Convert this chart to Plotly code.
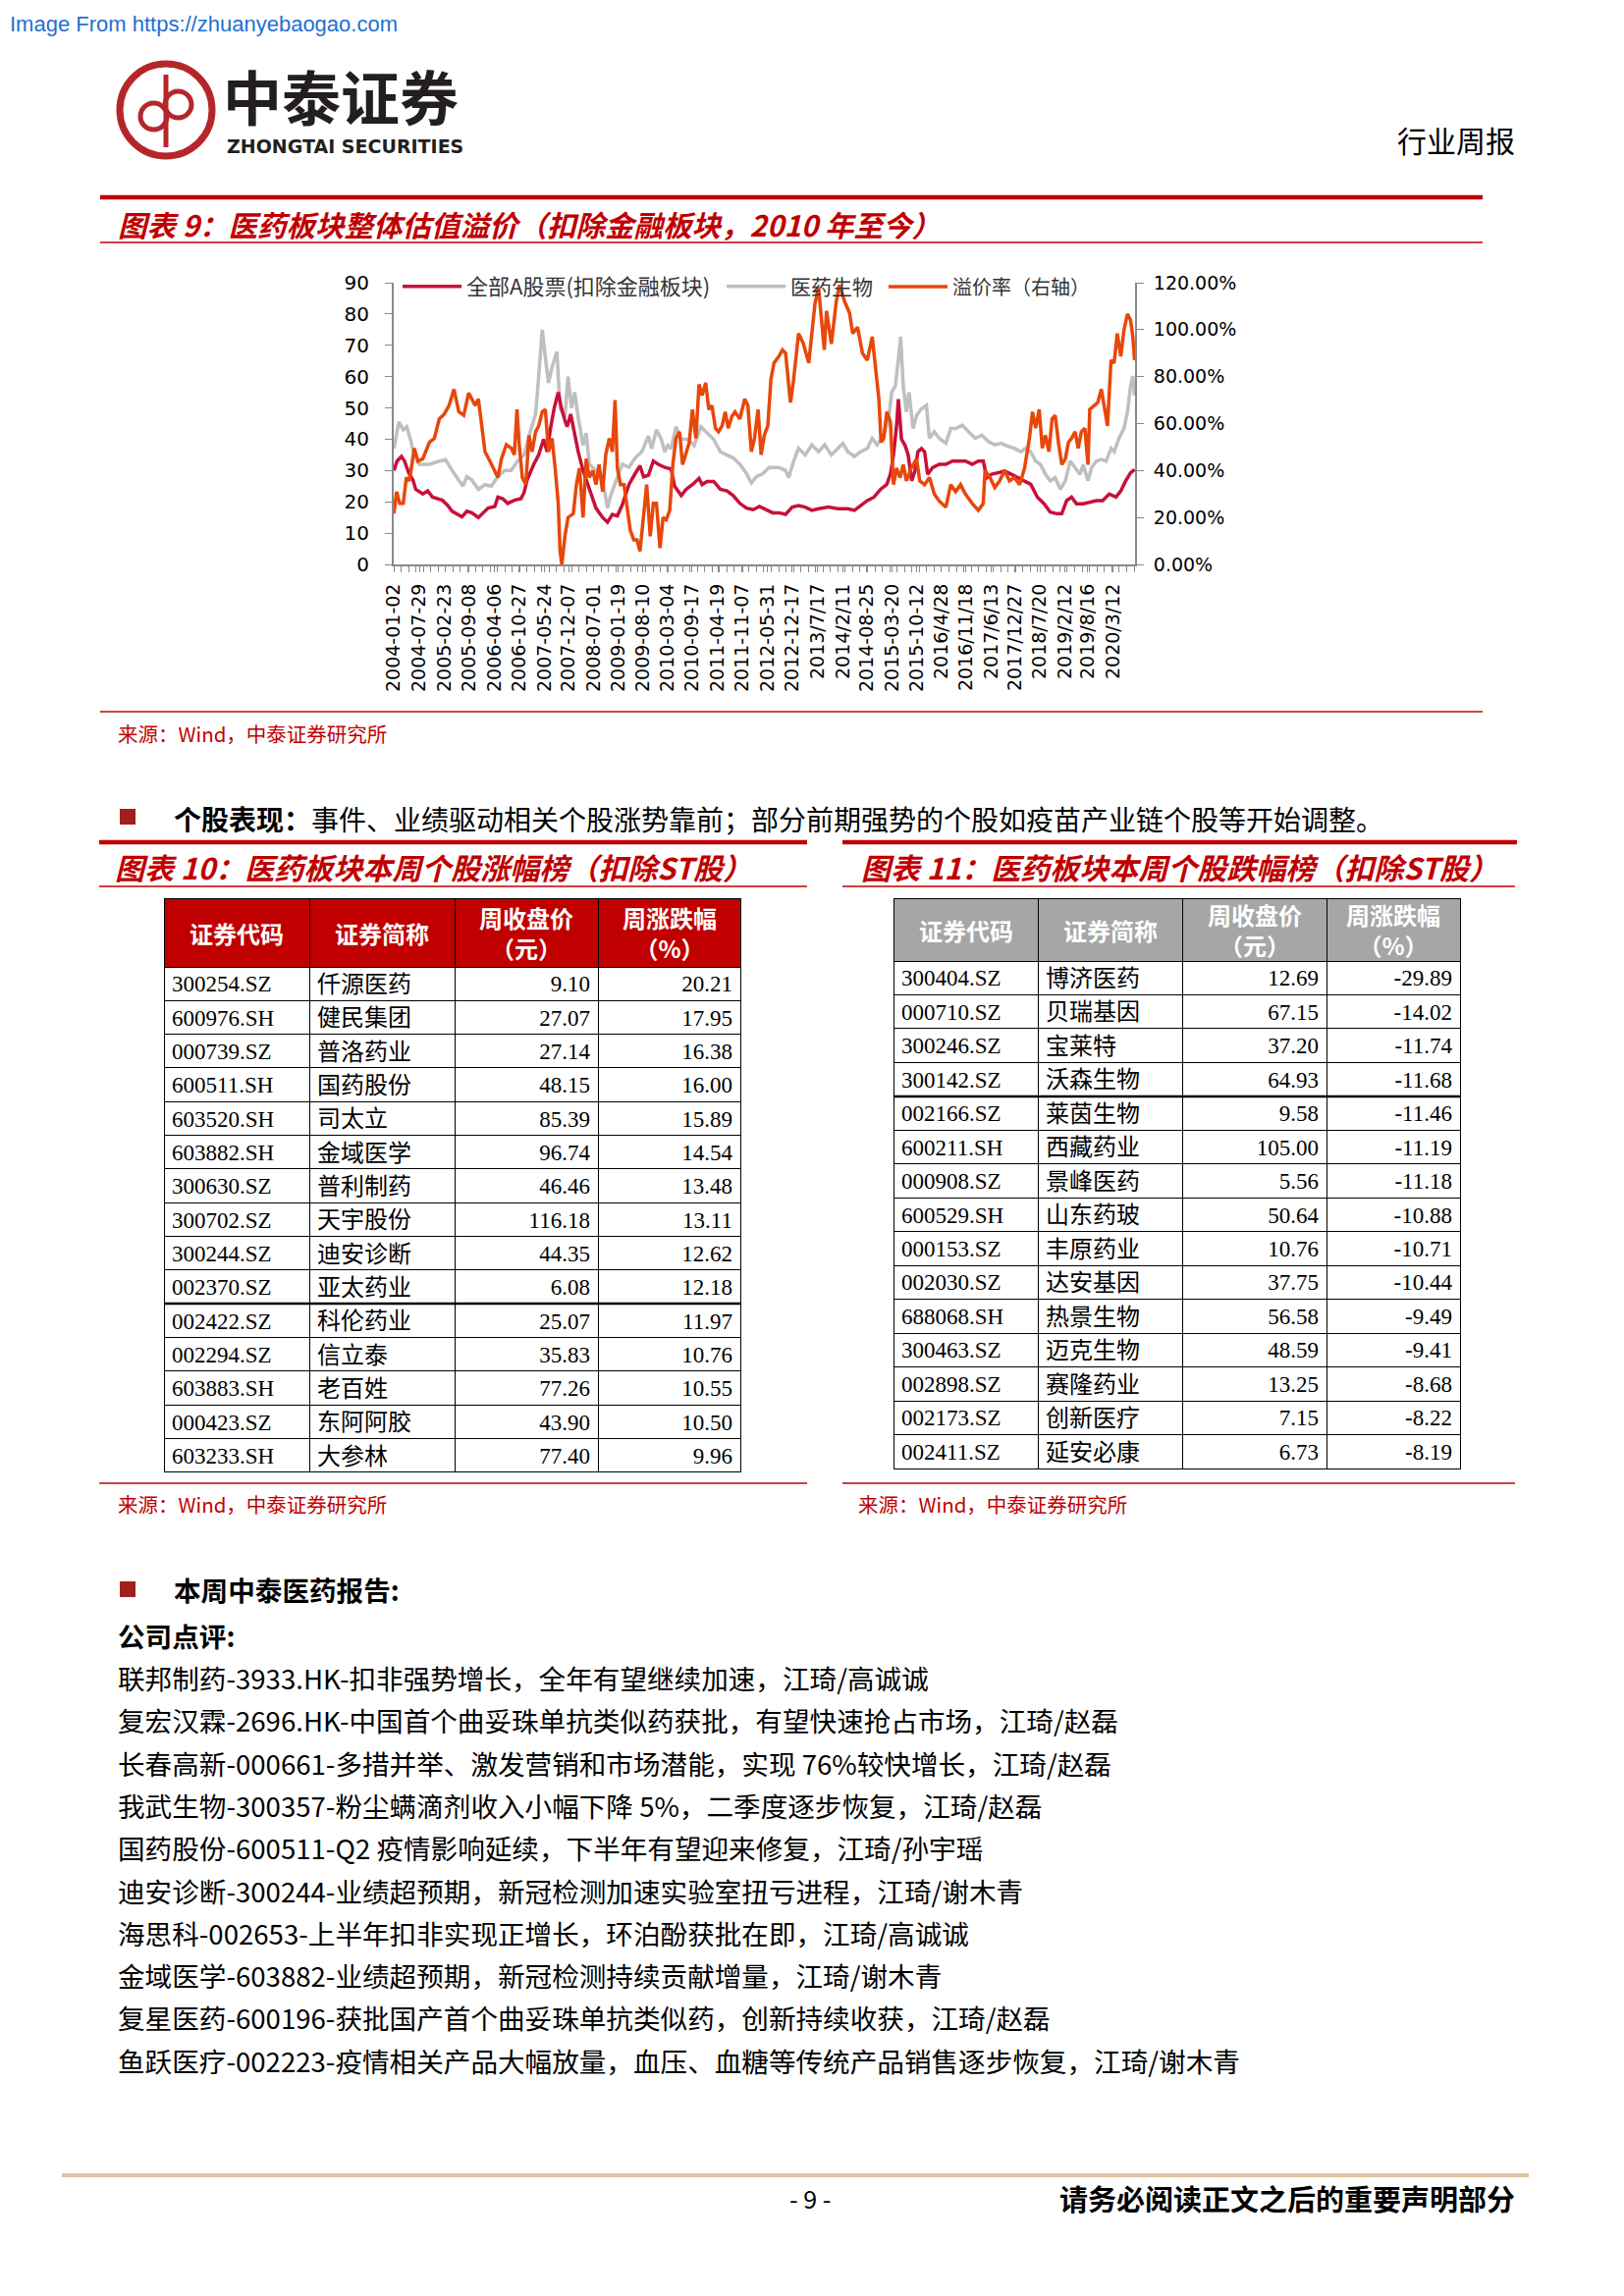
import plotly.graph_objects as go
import pandas as pd

W, H = 1654, 2339
OFF = 8  # the html body margin puts the figure 8px in from the window corner

# ---------------- chart data ----------------
x_labels = ["2004-01-02", "2004-07-29", "2005-02-23", "2005-09-08", "2006-04-06", "2006-10-27",
            "2007-05-24", "2007-12-07", "2008-07-01", "2009-01-19", "2009-08-10", "2010-03-04",
            "2010-09-17", "2011-04-19", "2011-11-07", "2012-05-31", "2012-12-17", "2013/7/17",
            "2014/2/11", "2014-08-25", "2015-03-20", "2015-10-12", "2016/4/28", "2016/11/18",
            "2017/6/13", "2017/12/27", "2018/7/20", "2019/2/12", "2019/8/16", "2020/3/12"]

# 全部A股票(扣除金融板块) - time in decimal years, PE values
red_t = [2004.00, 2004.07, 2004.17, 2004.24, 2004.34, 2004.43, 2004.49, 2004.65, 2004.76, 2004.87,
         2005.09, 2005.20, 2005.31, 2005.42, 2005.53, 2005.64, 2005.75, 2005.90, 2006.01, 2006.12,
         2006.27, 2006.34, 2006.45, 2006.56, 2006.71, 2006.86, 2006.93, 2007.00, 2007.15, 2007.26,
         2007.37, 2007.45, 2007.52, 2007.61, 2007.70, 2007.77, 2007.85, 2007.90, 2007.98, 2008.07,
         2008.15, 2008.26, 2008.40, 2008.55, 2008.70, 2008.81, 2008.92, 2009.03, 2009.14, 2009.21,
         2009.29, 2009.43, 2009.54, 2009.62, 2009.73, 2009.84, 2009.95, 2010.10, 2010.24, 2010.32,
         2010.47, 2010.58, 2010.72, 2010.87, 2010.94, 2011.05, 2011.20, 2011.35, 2011.50, 2011.64,
         2011.79, 2011.94, 2012.09, 2012.23, 2012.38, 2012.53, 2012.67, 2012.82, 2012.97, 2013.11,
         2013.26, 2013.41, 2013.56, 2013.78, 2014.00, 2014.22, 2014.37, 2014.51, 2014.66, 2014.81,
         2014.96, 2015.10, 2015.18, 2015.25, 2015.32, 2015.36, 2015.43, 2015.51, 2015.58, 2015.66,
         2015.73, 2015.80, 2015.88, 2015.95, 2016.02, 2016.13, 2016.28, 2016.43, 2016.58, 2016.72,
         2016.87, 2017.02, 2017.16, 2017.27, 2017.35, 2017.46, 2017.61, 2017.75, 2017.90, 2018.05,
         2018.20, 2018.34, 2018.49, 2018.64, 2018.78, 2018.93, 2019.04, 2019.15, 2019.26, 2019.37,
         2019.52, 2019.67, 2019.82, 2019.96, 2020.11, 2020.26, 2020.37, 2020.48, 2020.59, 2020.68]
red_v = [30, 33, 34.5, 33, 29, 27, 24, 22.5, 23.5, 21.5,
         20.5, 19, 17, 16, 15.2, 17, 16.5, 15, 16.5, 18,
         18.5, 21.5, 21, 19.5, 20.5, 21, 23, 27, 32, 35,
         40, 36, 43, 50, 55, 50, 46, 44, 48, 41,
         36, 30, 24, 18, 15, 13.5, 16, 15.5, 19, 22,
         25.5, 29, 31.5, 28, 28.5, 33, 32, 31, 30.5, 25,
         22, 24, 25.5, 27.5, 25.5, 26.5, 26.5, 24, 23.5, 22,
         19.5, 18, 17.5, 18.5, 17.5, 16.5, 16.5, 16, 18.3, 18.8,
         18.3, 17.3, 17.8, 18.3, 17.8, 17.8, 17.3, 18.8, 20.4, 21.5,
         24, 25.6, 28.8, 35, 44.5, 52.8, 40, 38, 35, 26.7,
         29.8, 36, 37, 36, 28.8, 30.9, 32, 32, 33, 33,
         33, 32, 33, 33, 27.7, 28.8, 29.3, 29.8, 28.8, 27.7,
         26.7, 25.6, 21.5, 19.4, 16.7, 16.2, 16.2, 20.4, 21.5, 19.4,
         19.4, 19.9, 20.4, 20.4, 22.5, 21.5, 23.5, 26.7, 29.3, 30.3]

# 医药生物
gray_t = [2004.00, 2004.06, 2004.11, 2004.21, 2004.29, 2004.37, 2004.44, 2004.57, 2004.80, 2005.02,
          2005.16, 2005.31, 2005.46, 2005.55, 2005.64, 2005.75, 2005.90, 2006.05, 2006.19, 2006.34,
          2006.49, 2006.64, 2006.78, 2006.93, 2007.08, 2007.19, 2007.26, 2007.34, 2007.41, 2007.48,
          2007.56, 2007.67, 2007.74, 2007.85, 2007.92, 2008.00, 2008.07, 2008.15, 2008.26, 2008.33,
          2008.40, 2008.55, 2008.70, 2008.81, 2008.88, 2008.99, 2009.14, 2009.29, 2009.43, 2009.58,
          2009.73, 2009.80, 2009.91, 2010.02, 2010.10, 2010.17, 2010.24, 2010.35, 2010.47, 2010.61,
          2010.76, 2010.91, 2011.05, 2011.20, 2011.35, 2011.50, 2011.64, 2011.79, 2011.94, 2012.05,
          2012.16, 2012.31, 2012.45, 2012.67, 2012.82, 2012.89, 2013.00, 2013.11, 2013.26, 2013.41,
          2013.56, 2013.70, 2013.85, 2014.00, 2014.11, 2014.22, 2014.37, 2014.51, 2014.66, 2014.77,
          2014.88, 2015.03, 2015.14, 2015.21, 2015.29, 2015.36, 2015.41, 2015.47, 2015.54, 2015.60,
          2015.69, 2015.77, 2015.88, 2015.99, 2016.06, 2016.17, 2016.28, 2016.43, 2016.54, 2016.65,
          2016.80, 2016.94, 2017.09, 2017.24, 2017.39, 2017.53, 2017.68, 2017.83, 2017.97, 2018.12,
          2018.23, 2018.34, 2018.45, 2018.56, 2018.67, 2018.78, 2018.89, 2019.01, 2019.12, 2019.23,
          2019.34, 2019.45, 2019.52, 2019.63, 2019.71, 2019.82, 2019.93, 2020.04, 2020.15, 2020.22,
          2020.33, 2020.44, 2020.52, 2020.59, 2020.64, 2020.68]
gray_v = [37, 42, 45.5, 43, 44, 40, 36, 32, 32, 33,
          33.5, 30, 27, 25, 28, 27, 24, 25.5, 25, 28,
          30, 30, 33, 35, 43, 48, 60, 75, 66, 58,
          63, 68, 50, 47, 60, 50, 55, 47, 38, 42,
          32, 30, 27, 18, 22, 26, 32, 31, 34, 36,
          41, 37, 43, 40, 36, 38, 37, 44, 40, 40,
          38, 44, 42, 40, 36, 35, 34, 32, 29, 26,
          28, 29, 31, 31, 30, 27.7, 33, 37.1, 35, 38.2,
          36, 38.2, 35, 37.1, 38.7, 36, 34.5, 36, 37.1, 40.3,
          38.2, 41.3, 46.6, 55, 57, 65.4, 72.7, 57, 48.7, 55,
          43.4, 47.6, 49.7, 50.8, 40.3, 42.4, 40.3, 38.7, 43.4, 43.4,
          44.5, 42.4, 40.3, 41.3, 39.2, 38.2, 38.7, 37.7, 37.1, 36,
          37.1, 36, 33, 31.9, 28.8, 26.7, 27.7, 24, 26.7, 33,
          30.9, 28.8, 31.9, 26.7, 30.9, 33, 33.5, 33, 37.1, 36,
          40.3, 43.4, 48.7, 57, 60.2, 53.9]

# 溢价率（右轴）, percent
org_t = [2004.00, 2004.06, 2004.13, 2004.21, 2004.28, 2004.35, 2004.46, 2004.54, 2004.65, 2004.80,
         2004.91, 2005.02, 2005.13, 2005.24, 2005.35, 2005.46, 2005.57, 2005.68, 2005.75, 2005.83,
         2005.90, 2005.97, 2006.05, 2006.16, 2006.27, 2006.34, 2006.42, 2006.53, 2006.64, 2006.71,
         2006.77, 2006.82, 2006.89, 2006.97, 2007.04, 2007.11, 2007.19, 2007.26, 2007.34, 2007.41,
         2007.48, 2007.56, 2007.63, 2007.70, 2007.74, 2007.78, 2007.85, 2007.92, 2008.04, 2008.11,
         2008.18, 2008.26, 2008.33, 2008.40, 2008.48, 2008.55, 2008.62, 2008.70, 2008.77, 2008.85,
         2008.92, 2008.98, 2009.03, 2009.10, 2009.18, 2009.25, 2009.32, 2009.40, 2009.47, 2009.54,
         2009.62, 2009.69, 2009.77, 2009.84, 2009.91, 2009.99, 2010.06, 2010.13, 2010.21, 2010.28,
         2010.35, 2010.43, 2010.50, 2010.58, 2010.65, 2010.72, 2010.80, 2010.87, 2010.94, 2011.02,
         2011.09, 2011.16, 2011.24, 2011.31, 2011.39, 2011.46, 2011.53, 2011.61, 2011.68, 2011.79,
         2011.90, 2011.97, 2012.05, 2012.12, 2012.20, 2012.27, 2012.34, 2012.42, 2012.49, 2012.56,
         2012.67, 2012.75, 2012.82, 2012.93, 2013.00, 2013.11, 2013.22, 2013.34, 2013.41, 2013.48,
         2013.56, 2013.63, 2013.69, 2013.74, 2013.85, 2013.96, 2014.03, 2014.15, 2014.26, 2014.33,
         2014.44, 2014.55, 2014.66, 2014.77, 2014.85, 2014.92, 2014.97, 2015.03, 2015.10, 2015.18,
         2015.25, 2015.32, 2015.40, 2015.47, 2015.54, 2015.65, 2015.77, 2015.84, 2015.95, 2016.06,
         2016.17, 2016.28, 2016.43, 2016.54, 2016.65, 2016.76, 2016.87, 2017.02, 2017.16, 2017.27,
         2017.31, 2017.42, 2017.53, 2017.64, 2017.75, 2017.86, 2017.97, 2018.09, 2018.20, 2018.31,
         2018.38, 2018.45, 2018.53, 2018.60, 2018.67, 2018.75, 2018.82, 2018.89, 2018.97, 2019.04,
         2019.12, 2019.19, 2019.26, 2019.34, 2019.41, 2019.48, 2019.56, 2019.63, 2019.67, 2019.78,
         2019.85, 2019.93, 2020.00, 2020.07, 2020.15, 2020.22, 2020.29, 2020.37, 2020.44, 2020.52,
         2020.59, 2020.64, 2020.68]
org_v = [21.6, 31, 26, 26, 37, 35.6, 49.5, 44, 45, 52,
         53.7, 62, 64, 67.7, 74.6, 65, 63.5, 73, 70.5, 67.7,
         70.5, 59, 48, 44, 40, 37, 45, 51, 49.5, 46.7,
         66, 51, 37, 34, 55, 48, 56.5, 59, 65, 66,
         48, 53.7, 41, 26, 6, 0, 12, 20, 21.6, 34,
         41, 20, 45, 37, 40, 34, 42.5, 31, 46.7, 53.7,
         48, 70, 41, 34, 34, 23, 14.6, 10.5, 10.5, 5.6,
         20, 34, 12, 26, 26, 7, 20, 19, 23, 42.5,
         53.7, 56.5, 42.5, 48, 52, 66, 53.7, 76.7, 72, 77.4,
         66, 67.7, 58, 56.5, 59, 65, 58, 63, 65, 62,
         70.5, 67.7, 48, 53.7, 66, 46.7, 55, 59, 78.8, 85.8,
         88.6, 91.4, 90, 69, 78.8, 98.4, 94, 85.8, 98.4, 111,
         118, 105, 91.4, 108, 94, 112, 119, 112, 107, 98.4,
         101, 90, 87, 97, 84.4, 70.5, 52, 53.7, 65, 60.7,
         34, 41, 37, 42.5, 35.6, 41, 45, 35.6, 34, 37,
         30, 27, 24.4, 34, 31, 34, 30, 26, 23, 26,
         40, 37, 32.8, 35.6, 40, 35.6, 37, 34, 41, 53.7,
         65, 58, 66, 49.5, 55, 48, 62, 63.5, 51, 42.5,
         45, 52, 53.7, 56.5, 49.5, 56.5, 58, 42.5, 66, 67.7,
         69, 74.6, 66, 59, 87, 85.8, 98.4, 88.6, 99.8, 106.7,
         104, 97, 87]

# ---------------- tables ----------------
heads = ["证券代码", "证券简称", "周收盘价<br>（元）", "周涨跌幅<br>（%）"]

up_code = ["300254.SZ", "600976.SH", "000739.SZ", "600511.SH", "603520.SH", "603882.SH", "300630.SZ",
           "300702.SZ", "300244.SZ", "002370.SZ", "002422.SZ", "002294.SZ", "603883.SH", "000423.SZ",
           "603233.SH"]
up_name = ["仟源医药", "健民集团", "普洛药业", "国药股份", "司太立", "金域医学", "普利制药",
           "天宇股份", "迪安诊断", "亚太药业", "科伦药业", "信立泰", "老百姓", "东阿阿胶", "大参林"]
up_close = [9.10, 27.07, 27.14, 48.15, 85.39, 96.74, 46.46, 116.18, 44.35, 6.08, 25.07, 35.83,
            77.26, 43.90, 77.40]
up_chg = [20.21, 17.95, 16.38, 16.00, 15.89, 14.54, 13.48, 13.11, 12.62, 12.18, 11.97, 10.76,
          10.55, 10.50, 9.96]

dn_code = ["300404.SZ", "000710.SZ", "300246.SZ", "300142.SZ", "002166.SZ", "600211.SH", "000908.SZ",
           "600529.SH", "000153.SZ", "002030.SZ", "688068.SH", "300463.SZ", "002898.SZ", "002173.SZ",
           "002411.SZ"]
dn_name = ["博济医药", "贝瑞基因", "宝莱特", "沃森生物", "莱茵生物", "西藏药业", "景峰医药",
           "山东药玻", "丰原药业", "达安基因", "热景生物", "迈克生物", "赛隆药业", "创新医疗", "延安必康"]
dn_close = [12.69, 67.15, 37.20, 64.93, 9.58, 105.00, 5.56, 50.64, 10.76, 37.75, 56.58, 48.59,
            13.25, 7.15, 6.73]
dn_chg = [-29.89, -14.02, -11.74, -11.68, -11.46, -11.19, -11.18, -10.88, -10.71, -10.44, -9.49,
          -9.41, -8.68, -8.22, -8.19]

reports = [
    "联邦制药-3933.HK-扣非强势增长，全年有望继续加速，江琦/高诚诚",
    "复宏汉霖-2696.HK-中国首个曲妥珠单抗类似药获批，有望快速抢占市场，江琦/赵磊",
    "长春高新-000661-多措并举、激发营销和市场潜能，实现 76%较快增长，江琦/赵磊",
    "我武生物-300357-粉尘螨滴剂收入小幅下降 5%，二季度逐步恢复，江琦/赵磊",
    "国药股份-600511-Q2 疫情影响延续，下半年有望迎来修复，江琦/孙宇瑶",
    "迪安诊断-300244-业绩超预期，新冠检测加速实验室扭亏进程，江琦/谢木青",
    "海思科-002653-上半年扣非实现正增长，环泊酚获批在即，江琦/高诚诚",
    "金域医学-603882-业绩超预期，新冠检测持续贡献增量，江琦/谢木青",
    "复星医药-600196-获批国产首个曲妥珠单抗类似药，创新持续收获，江琦/赵磊",
    "鱼跃医疗-002223-疫情相关产品大幅放量，血压、血糖等传统产品销售逐步恢复，江琦/谢木青",
]


def yr2date(t):
    y = int(t)
    return pd.Timestamp(year=y, month=1, day=1) + pd.Timedelta(days=(t - y) * 365.25)


# page pixel -> paper fraction
def X(px):
    return (px - OFF) / W


def Y(py):
    return 1 - (py - OFF) / H


CJK = "Noto Sans CJK SC"
RED = "#C00000"
axcol = "#898989"

fig = go.Figure()

fig.add_trace(go.Scatter(x=[yr2date(t) for t in gray_t], y=gray_v, mode="lines", name="医药生物",
                         line=dict(color="#BFBFBF", width=3.5), legend="legend2"))
fig.add_trace(go.Scatter(x=[yr2date(t) for t in red_t], y=red_v, mode="lines", name="全部A股票(扣除金融板块)",
                         line=dict(color="#C8103A", width=3.5), legend="legend"))
fig.add_trace(go.Scatter(x=[yr2date(t) for t in org_t], y=org_v, mode="lines", name="溢价率（右轴）",
                         line=dict(color="#E8470A", width=3.5), yaxis="y2", legend="legend3"))

tick_dates = pd.to_datetime(x_labels, format="mixed")

fig.update_layout(
    width=W, height=H, margin=dict(l=0, r=0, t=0, b=0), showlegend=True,
    paper_bgcolor="white", plot_bgcolor="white",
    xaxis=dict(domain=[X(401), X(1156)], anchor="y", range=[yr2date(2003.995), yr2date(2020.69)],
               tickvals=tick_dates, ticktext=x_labels, tickangle=-90,
               tickfont=dict(family="DejaVu Sans", size=19, color="black"),
               showline=True, linecolor=axcol, linewidth=2, ticks="outside", ticklen=6,
               tickcolor=axcol, showgrid=False, zeroline=False, ticklabelstandoff=4, automargin=False,
               minor=dict(ticks="outside", ticklen=6, tickcolor=axcol, dtick="M2", tick0="2004-01-01")),
    yaxis=dict(domain=[Y(575), Y(288)], anchor="x", range=[0, 90], dtick=10,
               tickfont=dict(family="DejaVu Sans", size=20, color="black"),
               showline=True, linecolor=axcol, linewidth=2, ticks="outside", ticklen=7,
               tickcolor=axcol, showgrid=False, zeroline=False, ticklabelstandoff=12, automargin=False),
    yaxis2=dict(overlaying="y", side="right", anchor="x", range=[0, 120], dtick=20,
                tickformat=".2f", ticksuffix="%",
                tickfont=dict(family="DejaVu Sans", size=19, color="black"),
                showline=True, linecolor=axcol, linewidth=2, ticks="outside", ticklen=7,
                tickcolor=axcol, showgrid=False, zeroline=False, ticklabelstandoff=6, automargin=False),
)

for key, lx, fs in [("legend", 405, 22), ("legend2", 735, 21), ("legend3", 900, 20)]:
    fig.update_layout({key: dict(x=X(lx), y=Y(292), xanchor="left", yanchor="middle",
                                 orientation="h", font=dict(family=CJK, size=fs, color="#333333"),
                                 bgcolor="rgba(0,0,0,0)", itemwidth=60)})

# ---------------- tables ----------------
body_font = dict(family="Liberation Serif, " + CJK, size=[23, 24, 23, 23], color="black")
blank = ["", "", "", ""]

fig.add_trace(go.Table(
    domain=dict(x=[X(167), X(754)], y=[Y(1502), Y(915)]),
    columnwidth=[148, 148, 146, 145],
    header=dict(values=blank, fill_color=RED, height=70, line=dict(color="black", width=1)),
    cells=dict(values=[up_code, up_name, up_close, up_chg], format=["", "", ".2f", ".2f"],
               fill_color="white", font=body_font, align=["left", "left", "right", "right"],
               height=34.33, line=dict(color="black", width=1)),
))
fig.add_trace(go.Table(
    domain=dict(x=[X(910), X(1487)], y=[Y(1498), Y(915)]),
    columnwidth=[147, 147, 147, 136],
    header=dict(values=blank, fill_color="#A6A6A6", height=64, line=dict(color="black", width=1)),
    cells=dict(values=[dn_code, dn_name, dn_close, dn_chg], format=["", "", ".2f", ".2f"],
               fill_color="white", font=body_font, align=["left", "left", "right", "right"],
               height=34.47, line=dict(color="black", width=1)),
))

# ---------------- page decoration ----------------
shapes = []


def hline(py, x0, x1, color=RED, width=1.5):
    shapes.append(dict(type="line", xref="paper", yref="paper", x0=X(x0), x1=X(x1),
                       y0=Y(py), y1=Y(py), line=dict(color=color, width=width)))


hline(201, 102, 1510, width=4.5)
hline(247, 102, 1510)
hline(725, 102, 1510)
hline(858, 101, 822, width=4.5)
hline(858, 858, 1545, width=4.5)
hline(903, 101, 822)
hline(903, 858, 1543)
hline(1511, 101, 822)
hline(1511, 858, 1543)
hline(2216, 63, 1557, color="#E2C4A2", width=4)
# heavier row rules inside the tables
hline(1328, 167, 754, color="black", width=2.5)
hline(1117, 910, 1487, color="black", width=2.5)

# logo
logo = "#B5262B"
shapes.append(dict(type="circle", xref="paper", yref="paper", x0=X(122), x1=X(216), y0=Y(159), y1=Y(65),
                   line=dict(color=logo, width=7)))
shapes.append(dict(type="circle", xref="paper", yref="paper", x0=X(143), x1=X(170), y0=Y(132), y1=Y(105),
                   line=dict(color=logo, width=5)))
shapes.append(dict(type="circle", xref="paper", yref="paper", x0=X(168), x1=X(195), y0=Y(120), y1=Y(93),
                   line=dict(color=logo, width=5)))
shapes.append(dict(type="line", xref="paper", yref="paper", x0=X(169), x1=X(169), y0=Y(150), y1=Y(76),
                   line=dict(color=logo, width=5)))
# bullets
for by in (832, 1619):
    shapes.append(dict(type="rect", xref="paper", yref="paper", x0=X(122), x1=X(138), y0=Y(by + 8),
                       y1=Y(by - 8), fillcolor="#A0201C", line=dict(width=0)))

anns = []


def txt(px, py, s, size, color="black", family=CJK, anchor="left"):
    anns.append(dict(x=X(px), y=Y(py), xref="paper", yref="paper", text=s, showarrow=False,
                     xanchor=anchor, yanchor="middle", font=dict(family=family, size=size, color=color)))


anns.append(dict(x=0, y=Y(24), xref="paper", yref="paper", text="Image From https://zhuanyebaogao.com",
                 showarrow=False, xanchor="left", yanchor="middle",
                 font=dict(family="Liberation Sans", size=22, color="#1F6FD0")))
txt(225, 97, "<b>中泰证券</b>", 60, color="#231F20")
txt(229, 149, "<b>ZHONGTAI SECURITIES</b>", 19, color="#231F20", family="DejaVu Sans")
txt(1545, 142, "行业周报", 30, anchor="right")

txt(118, 228, "<b><i>图表 9：医药板块整体估值溢价（扣除金融板块，2010 年至今）</i></b>", 29.5, color=RED)
txt(118, 747, "来源：Wind，中泰证券研究所", 20.5, color=RED)

txt(175, 834, "<b>个股表现：</b>事件、业绩驱动相关个股涨势靠前；部分前期强势的个股如疫苗产业链个股等开始调整。", 28)
txt(115, 883, "<b><i>图表 10：医药板块本周个股涨幅榜（扣除ST股）</i></b>", 30, color=RED)
txt(875, 883, "<b><i>图表 11：医药板块本周个股跌幅榜（扣除ST股）</i></b>", 30, color=RED)
txt(118, 1532, "来源：Wind，中泰证券研究所", 20.5, color=RED)
txt(872, 1532, "来源：Wind，中泰证券研究所", 20.5, color=RED)

# table header labels, centred in the header cells
for cx, h in zip([240.5, 388.7, 536, 681.5], heads):
    txt(cx, 950, "<b>" + h + "</b>", 24, color="white", anchor="center")
for cx, h in zip([983.5, 1130.5, 1277.5, 1419], heads):
    txt(cx, 947, "<b>" + h + "</b>", 24, color="white", anchor="center")

txt(175, 1619, "<b>本周中泰医药报告:</b>", 27.6)
txt(118, 1666, "<b>公司点评:</b>", 27.6)
for i, line in enumerate(reports):
    txt(118, 1709 + i * 43.3, line, 27.6)

txt(825, 2239, "- 9 -", 25, anchor="center")
txt(1545, 2239, "<b>请务必阅读正文之后的重要声明部分</b>", 29, anchor="right")

fig.update_layout(shapes=shapes, annotations=anns)

fig.write_html("out.html")
